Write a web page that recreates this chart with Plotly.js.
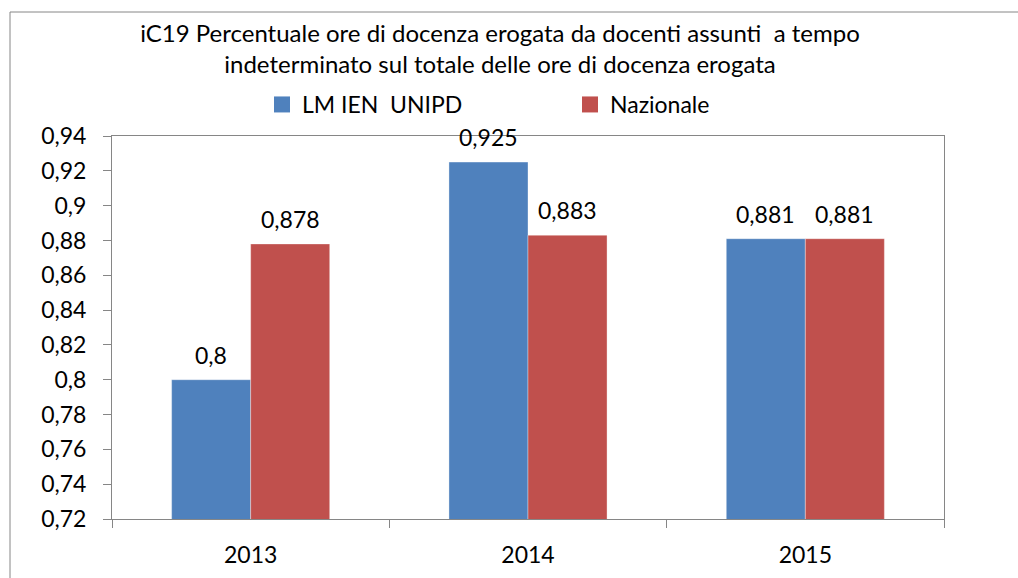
<!DOCTYPE html>
<html><head><meta charset="utf-8">
<script src="https://cdn.plot.ly/plotly-3.0.1.min.js"></script>
<style>html,body{margin:0;padding:0;background:#fff}#chart{width:1018px;height:578px}</style>
</head><body><div id="chart"></div>
<script>
const years = ['2013', '2014', '2015'];
const seriesNames = ['LM IEN  UNIPD', 'Nazionale'];
const lmValues = [0.8, 0.925, 0.881];
const nazValues = [0.878, 0.883, 0.881];
const yTickVals = [0.72, 0.74, 0.76, 0.78, 0.8, 0.82, 0.84, 0.86, 0.88, 0.9, 0.92, 0.94];
const yTickText = ['0,72', '0,74', '0,76', '0,78', '0,8', '0,82', '0,84', '0,86', '0,88', '0,9', '0,92', '0,94'];
const colors = ['#4F81BD', '#C0504D'];

const FONT = 'Lato, Open Sans, sans-serif';
const FS = 23;
function lbl(v) { return String(v).replace('.', ','); }
const series = [lmValues, nazValues];

const traces = series.map((vals, i) => ({
  type: 'bar', name: seriesNames[i], x: years, y: vals, showlegend: false,
  marker: {color: colors[i], line: {color: 'rgba(255,255,255,0.35)', width: 1}},
  hoverinfo: 'x+y'
}));
// legend-only entries with larger square symbols (no drawn points)
series.forEach((vals, i) => traces.push({
  type: 'scatter', mode: 'markers', name: seriesNames[i], x: [years[0]], y: [null],
  marker: {symbol: 'square', size: 16, color: colors[i]}, showlegend: true
}));

const BARW = 79; // px offset for labels over grouped bars
const annotations = [];
series.forEach((vals, i) => vals.forEach((v, j) => annotations.push({
  xref: 'x', yref: 'y', x: years.indexOf(years[j]), y: v, text: lbl(v), showarrow: false,
  xanchor: 'center', yanchor: 'bottom', xshift: (i === 0 ? -1 : 1) * BARW / 2, yshift: 9,
  font: {family: FONT, size: FS, color: '#000'}
})));

const layout = {
  width: 1018, height: 578,
  margin: {l: 112, r: 74, t: 136, b: 59},
  paper_bgcolor: '#fff', plot_bgcolor: '#fff',
  font: {family: FONT, size: FS, color: '#000'},
  title: {text: 'iC19 Percentuale ore di docenza erogata da docenti assunti  a tempo<br>indeterminato sul totale delle ore di docenza erogata',
    font: {family: FONT, size: 24, color: '#000'}, xref: 'container', x: 500/1018, xanchor: 'center',
    yref: 'container', y: 1 - 42/578, yanchor: 'top'},
  barmode: 'group', bargap: 0.43, bargroupgap: 0,
  showlegend: true,
  legend: {orientation: 'h', xref: 'container', yref: 'container', x: 262/1018, xanchor: 'left',
    y: 1 - 83/578, yanchor: 'top', entrywidth: 263, entrywidthmode: 'pixels',
    font: {family: FONT, size: FS, color: '#000'}, itemwidth: 30, itemsizing: 'trace', traceorder: 'normal'},
  annotations: annotations,
  xaxis: {type: 'category', categoryorder: 'array', categoryarray: years, range: [-0.5, 2.5],
    tickson: 'boundaries', ticks: 'outside', ticklen: 8, tickcolor: '#868686',
    showline: true, linecolor: '#868686', linewidth: 1, mirror: true, showgrid: false,
    ticklabelstandoff: 15, tickangle: 0,
    tickfont: {family: FONT, size: FS, color: '#000'}, fixedrange: true},
  yaxis: {range: [0.72, 0.94], tickvals: yTickVals, ticktext: yTickText, ticks: 'outside', ticklen: 8,
    tickcolor: '#868686', showline: true, linecolor: '#868686', linewidth: 1, mirror: true,
    ticklabelstandoff: 12,
    showgrid: false, zeroline: false, tickfont: {family: FONT, size: FS, color: '#000'}, fixedrange: true},
  shapes: [{type: 'rect', xref: 'paper', yref: 'paper', x0: (10-112)/832, x1: 1.3, y0: -0.3, y1: (519-12)/383,
    line: {color: '#868686', width: 1}, fillcolor: 'rgba(0,0,0,0)', layer: 'below'}]
};
Plotly.newPlot('chart', traces, layout, {staticPlot: true});
</script></body></html>
